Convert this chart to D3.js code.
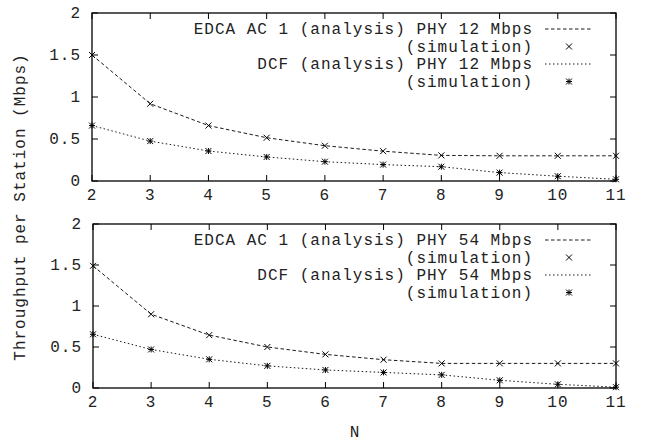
<!DOCTYPE html>
<html>
<head>
<meta charset="utf-8">
<script src="https://cdn.jsdelivr.net/npm/d3@7"></script>
<style>
  body { margin: 0; background: #fff; }
  text { font-family: "Courier New", "Liberation Mono", monospace; font-size: 16px; letter-spacing: 1px; fill: #222; }
</style>
</head>
<body>
<div id="chart"></div>
<script>
// stations
var stations = [2, 3, 4, 5, 6, 7, 8, 9, 10, 11]

// PHY 12 Mbps
var edca12 = [1.50, 0.92, 0.66, 0.515, 0.42, 0.355, 0.305, 0.30, 0.30, 0.30]
var dcf12 = [0.66, 0.475, 0.357, 0.286, 0.23, 0.195, 0.17, 0.10, 0.057, 0.02]

// PHY 54 Mbps
var edca54 = [1.49, 0.90, 0.645, 0.50, 0.41, 0.345, 0.30, 0.30, 0.30, 0.30]
var dcf54 = [0.655, 0.47, 0.35, 0.27, 0.22, 0.19, 0.16, 0.094, 0.045, 0.01]

var yTicks = [0, 0.5, 1, 1.5, 2]
var yTickLabels = ["0", "0.5", "1", "1.5", "2"]

var legend12 = ["EDCA AC 1 (analysis) PHY 12 Mbps", "(simulation)", "DCF (analysis) PHY 12 Mbps", "(simulation)"]
var legend54 = ["EDCA AC 1 (analysis) PHY 54 Mbps", "(simulation)", "DCF (analysis) PHY 54 Mbps", "(simulation)"]

const W = 647, H = 443

const svg = d3.select('#chart').append('svg')
    .attr('width', W)
    .attr('height', H)

// draws one panel; box = frame edges in px
function panel(box, edca, dcf, legend) {
    var x = d3.scaleLinear().domain([2, 11]).range([box.left, box.right])
    var y = d3.scaleLinear().domain([0, 2]).range([box.bottom, box.top])
    var g = svg.append('g')
    const tick = 6

    // ticks, inward on all four sides
    stations.forEach(s => {
        g.append('line').attr('x1', x(s)).attr('x2', x(s)).attr('y1', box.bottom).attr('y2', box.bottom - tick)
            .attr('stroke', '#000')
        g.append('line').attr('x1', x(s)).attr('x2', x(s)).attr('y1', box.top).attr('y2', box.top + tick)
            .attr('stroke', '#000')
        g.append('text').attr('x', x(s)).attr('y', box.bottom + 19)
            .attr('text-anchor', 'middle').text(s)
    })
    yTicks.forEach((t, i) => {
        g.append('line').attr('x1', box.left).attr('x2', box.left + tick).attr('y1', y(t)).attr('y2', y(t))
            .attr('stroke', '#000')
        g.append('line').attr('x1', box.right).attr('x2', box.right - tick).attr('y1', y(t)).attr('y2', y(t))
            .attr('stroke', '#000')
        g.append('text').attr('x', box.left - 11).attr('y', y(t) + 5)
            .attr('text-anchor', 'end').text(yTickLabels[i])
    })

    // frame
    g.append('rect')
        .attr('x', box.left).attr('y', box.top)
        .attr('width', box.right - box.left).attr('height', box.bottom - box.top)
        .attr('fill', 'none').attr('stroke', '#000').attr('stroke-width', 1.3)

    var line = d3.line().x((d, i) => x(stations[i])).y(d => y(d))

    g.append('path').attr('d', line(edca)).attr('fill', 'none')
        .attr('stroke', '#000').attr('stroke-width', 0.9).attr('stroke-dasharray', '3.5,2.5')
    g.append('path').attr('d', line(dcf)).attr('fill', 'none')
        .attr('stroke', '#000').attr('stroke-width', 0.9).attr('stroke-dasharray', '1.5,2.5')

    edca.forEach((v, i) => cross(g, x(stations[i]), y(v)))
    dcf.forEach((v, i) => star(g, x(stations[i]), y(v)))

    // legend
    var lx = 533, sx0 = 545, sx1 = 593, sm = 569
    legend.forEach((txt, i) => {
        var ly = box.top + 16 + i * 17.5
        g.append('text').attr('x', lx).attr('y', ly + 5)
            .attr('text-anchor', 'end').text(txt)
        if (i == 0) {
            g.append('line').attr('x1', sx0).attr('x2', sx1).attr('y1', ly).attr('y2', ly)
                .attr('stroke', '#000').attr('stroke-width', 0.9).attr('stroke-dasharray', '3.5,2.5')
        } else if (i == 2) {
            g.append('line').attr('x1', sx0).attr('x2', sx1).attr('y1', ly).attr('y2', ly)
                .attr('stroke', '#000').attr('stroke-width', 0.9).attr('stroke-dasharray', '1.5,2.5')
        } else if (i == 1) {
            cross(g, sm, ly)
        } else {
            star(g, sm, ly)
        }
    })
}

function cross(g, cx, cy) {
    var r = 3
    g.append('path').attr('d', `M${cx - r} ${cy - r}L${cx + r} ${cy + r}M${cx - r} ${cy + r}L${cx + r} ${cy - r}`)
        .attr('stroke', '#000').attr('stroke-width', 1)
}

function star(g, cx, cy) {
    var r = 3
    g.append('path').attr('d', `M${cx - r} ${cy - r}L${cx + r} ${cy + r}M${cx - r} ${cy + r}L${cx + r} ${cy - r}M${cx - r} ${cy}L${cx + r} ${cy}M${cx} ${cy - r}L${cx} ${cy + r}`)
        .attr('stroke', '#000').attr('stroke-width', 1)
}

panel({ left: 92, right: 616, top: 13, bottom: 181 }, edca12, dcf12, legend12)
panel({ left: 93, right: 616, top: 224, bottom: 388 }, edca54, dcf54, legend54)

// axis titles
svg.append('text').attr('x', 355).attr('y', 437).attr('text-anchor', 'middle').text('N')
svg.append('text')
    .attr('transform', 'translate(25,207) rotate(-90)')
    .attr('text-anchor', 'middle')
    .text('Throughput per Station (Mbps)')
</script>
</body>
</html>
